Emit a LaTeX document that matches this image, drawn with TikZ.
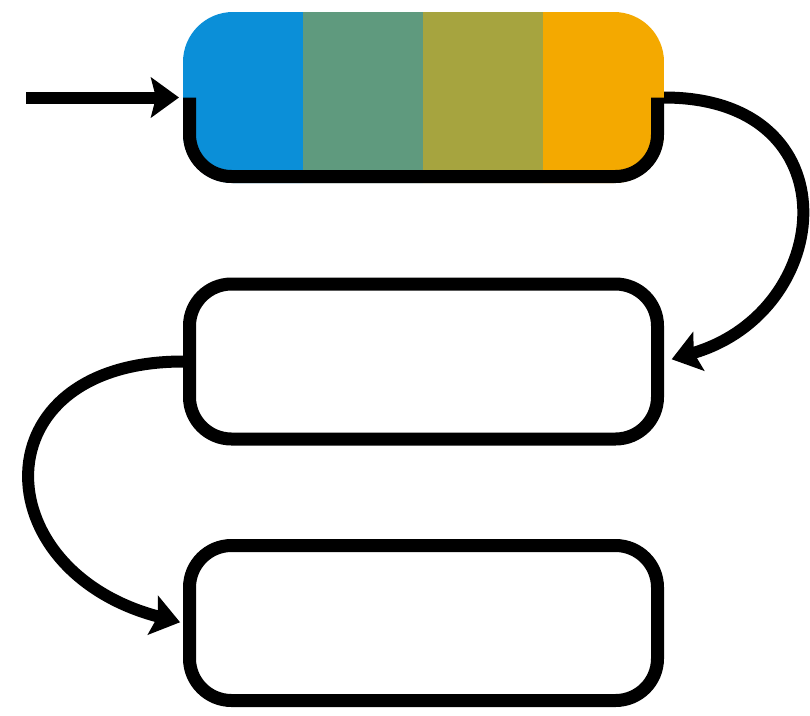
\documentclass[tikz,border=0pt]{standalone}
\usetikzlibrary{arrows.meta}
\definecolor{cblue}{HTML}{0B8FD8}
\definecolor{cgreen}{HTML}{5F9A7E}
\definecolor{colive}{HTML}{A6A43F}
\definecolor{corange}{HTML}{F4A900}
\begin{document}
\begin{tikzpicture}[x=1pt,y=-1pt,
  boxstyle/.style={draw=black, line width=13pt, rounded corners=42pt, minimum width=468pt, minimum height=155pt, inner sep=0pt},
  ghost/.style={minimum width=481pt, minimum height=171pt, inner sep=0pt, outer sep=0pt},
  border/.style={draw=black, line width=13pt, rounded corners=42pt},
  conn/.style={line width=12pt, -{Stealth[length=28pt,width=40pt,inset=5pt]}}
]
\useasboundingbox (0,0) rectangle (810,715);
% coloured top box
\begin{scope}
  \clip[rounded corners=50pt] (183,12) rectangle (664,183);
  \fill[cblue] (183,0) rectangle (303,200);
  \fill[cgreen] (303,0) rectangle (423,200);
  \fill[colive] (423,0) rectangle (543,200);
  \fill[corange] (543,0) rectangle (664,200);
\end{scope}
\node[ghost] (box1) at (423.5,97.5) {};
\draw[border] ([xshift=6.5pt]box1.west) |- ([yshift=6.5pt]box1.south) -| ([xshift=-6.5pt]box1.east);
% white boxes
\node[boxstyle] (box2) at (423.5,361.5) {};
\node[boxstyle] (box3) at (423.5,623) {};
% connectors
\coordinate (start) at (26,97.5);
\draw[conn, shorten >=4pt] (start) -- (box1.west);
\draw[conn, shorten >=8pt] (box1.east) .. controls +(190,0) and +(172,-50) .. (box2.east);
\draw[conn, shorten >=3pt] (box2.west) .. controls +(-205,0) and +(-200,-52) .. (box3.west);
\end{tikzpicture}
\end{document}
